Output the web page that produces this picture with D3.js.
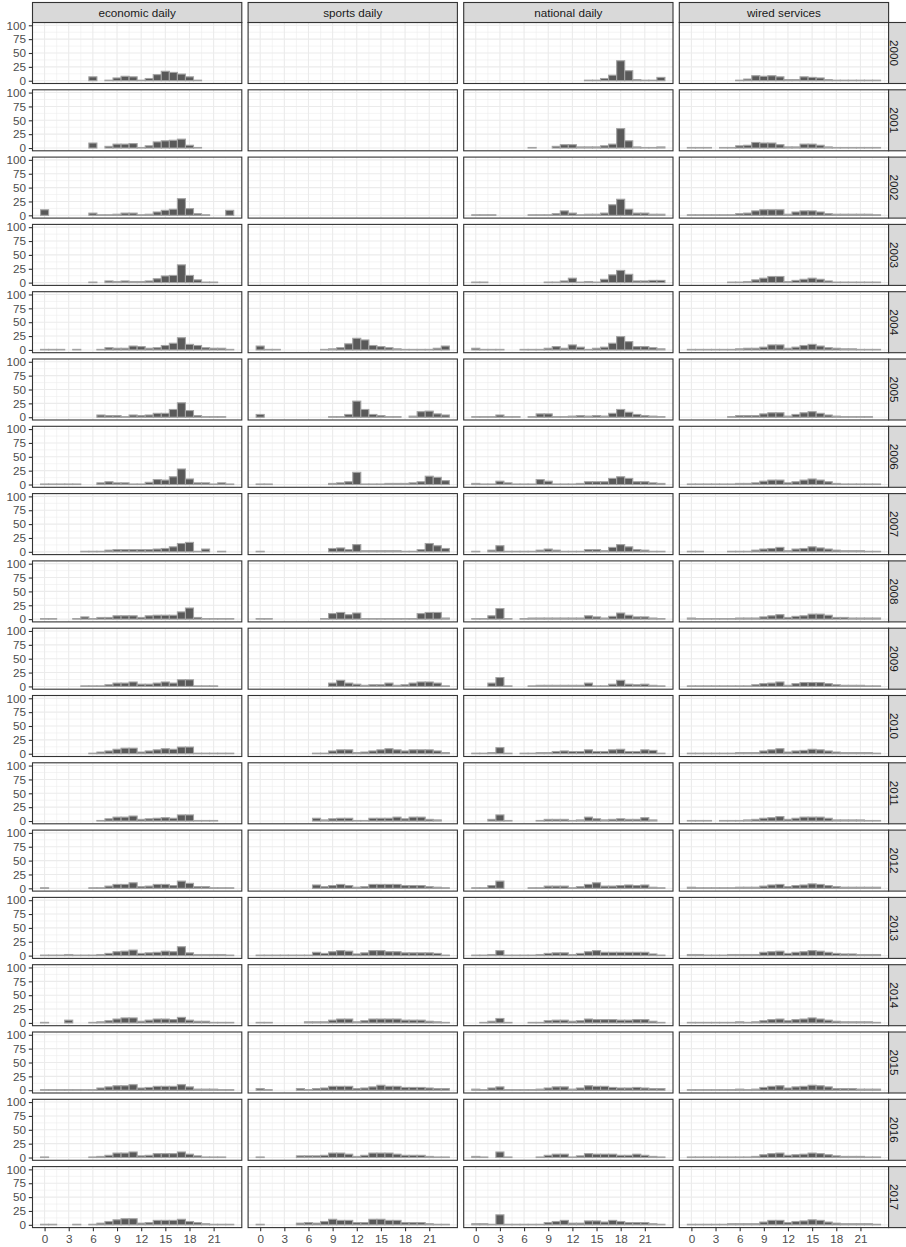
<!DOCTYPE html>
<html>
<head>
<meta charset="utf-8">
<script src="https://cdn.jsdelivr.net/npm/d3@7"></script>
<style>
  body { margin: 0; background: #fff; }
  svg { display: block; font-family: "Liberation Sans", Arial, sans-serif; }
</style>
</head>
<body>
<div id="chart"></div>
<script>
// facets
const sources = ["economic daily", "sports daily", "national daily", "wired services"];
const years = [2000, 2001, 2002, 2003, 2004, 2005, 2006, 2007, 2008, 2009,
               2010, 2011, 2012, 2013, 2014, 2015, 2016, 2017];
const hours = [0, 1, 2, 3, 4, 5, 6, 7, 8, 9, 10, 11, 12, 13, 14, 15, 16, 17, 18, 19, 20, 21, 22, 23];
const xTicks = [0, 3, 6, 9, 12, 15, 18, 21];
const yTicks = [0, 25, 50, 75, 100];

// counts per hour, one row per year (0 = no bar)
const economicDaily = [
  [0,0,0,0,0,0,7,0,1,5,8,7,1,4,11,17,15,12,7,1,0,0,0,0],
  [0,0,0,0,0,0,9,0,3,7,7,8,1,4,11,13,14,16,5,1,0,0,0,0],
  [10,0,0,0,0,0,4,1,1,2,4,4,1,2,6,9,11,30,12,3,1,0,0,9],
  [0,0,0,0,0,0,1,0,3,2,3,2,2,3,7,12,13,32,13,5,1,1,0,0],
  [1,1,1,0,1,0,0,1,4,3,3,7,6,3,4,8,12,22,10,8,4,3,3,1],
  [0,0,0,0,0,0,0,4,3,3,1,4,3,4,7,7,14,26,12,3,1,1,1,0],
  [1,1,1,1,1,0,0,3,5,3,3,1,1,4,9,8,14,28,10,3,3,1,3,1],
  [0,0,0,0,0,1,1,1,3,4,4,4,4,4,5,6,9,15,17,1,5,0,1,0],
  [1,1,0,0,1,4,1,3,3,6,6,6,3,6,7,7,7,13,20,3,1,1,1,1],
  [0,0,0,0,0,1,1,1,3,6,6,8,4,4,6,8,6,12,12,1,1,1,0,0],
  [0,0,0,0,0,0,1,3,5,8,10,10,3,5,7,9,8,12,12,1,1,1,1,1],
  [0,0,0,0,0,0,0,1,4,7,7,9,3,4,5,6,5,11,11,1,1,1,0,0],
  [1,0,0,0,0,0,1,1,4,7,7,10,3,4,7,7,5,13,9,3,3,1,1,1],
  [1,1,1,2,1,1,1,2,4,7,8,10,4,5,6,8,7,16,5,2,2,2,2,1],
  [1,0,0,5,0,0,1,2,4,7,9,9,3,5,7,7,6,10,5,3,3,1,1,1],
  [1,1,1,1,1,1,1,4,6,8,8,10,4,5,7,7,7,10,6,2,2,2,1,1],
  [1,0,0,0,0,0,1,2,4,8,8,10,3,4,7,7,7,10,6,3,1,1,1,0],
  [1,1,0,0,1,0,1,3,6,9,11,11,3,4,8,8,8,10,6,4,2,1,1,1]
];
const sportsDaily = [
  [0,0,0,0,0,0,0,0,0,0,0,0,0,0,0,0,0,0,0,0,0,0,0,0],
  [0,0,0,0,0,0,0,0,0,0,0,0,0,0,0,0,0,0,0,0,0,0,0,0],
  [0,0,0,0,0,0,0,0,0,0,0,0,0,0,0,0,0,0,0,0,0,0,0,0],
  [0,0,0,0,0,0,0,0,0,0,0,0,0,0,0,0,0,0,0,0,0,0,0,0],
  [7,1,1,0,0,0,0,0,1,2,4,11,21,18,8,6,4,2,1,1,1,1,3,7],
  [5,0,0,0,0,0,0,0,0,1,1,5,29,14,5,3,1,1,0,2,10,11,6,4],
  [1,1,0,0,0,0,0,0,0,2,3,5,22,1,1,1,2,2,2,3,5,15,13,7],
  [1,0,0,0,0,0,0,0,0,6,7,4,13,2,2,2,2,2,1,1,4,15,11,6],
  [1,1,0,0,0,0,0,0,1,10,12,8,11,1,1,1,1,1,1,1,10,12,12,2],
  [0,0,0,0,0,0,0,0,0,6,11,6,4,2,3,3,6,2,3,6,8,8,6,1],
  [0,0,0,0,0,0,0,1,1,5,7,7,2,3,5,7,9,7,5,7,7,7,5,2],
  [0,0,0,0,0,0,0,5,2,4,5,5,1,1,5,5,5,7,4,7,7,3,2,0],
  [0,0,0,0,0,0,0,6,3,5,7,5,2,3,7,7,7,7,5,5,5,3,2,1],
  [1,1,1,1,1,1,1,6,4,7,9,8,3,5,9,9,7,7,5,5,5,5,4,1],
  [1,1,0,0,0,0,2,2,2,5,7,7,2,4,7,7,7,7,5,5,5,3,2,1],
  [3,1,0,0,0,3,1,3,4,7,7,7,3,4,6,9,7,7,5,5,5,4,3,3],
  [1,0,0,0,0,3,3,3,4,8,8,6,2,4,8,8,8,6,4,4,4,2,1,1],
  [1,0,0,0,0,3,4,3,6,10,8,8,4,4,10,10,8,8,4,4,4,2,1,1]
];
const nationalDaily = [
  [0,0,0,0,0,0,0,0,0,0,0,0,0,0,1,1,4,10,36,18,2,1,1,6],
  [0,0,0,0,0,0,0,1,0,0,3,6,6,2,2,2,4,7,35,13,2,1,1,2],
  [1,1,1,0,0,0,0,1,1,1,3,8,4,1,2,2,4,19,29,11,4,4,2,2],
  [1,1,0,0,0,0,0,0,0,1,1,3,8,1,2,1,6,14,22,15,3,3,4,4],
  [3,1,1,1,0,0,1,1,1,3,6,3,9,5,1,3,5,12,24,15,6,6,4,2],
  [1,1,1,4,1,1,0,1,6,6,1,1,2,3,2,3,2,7,14,9,5,3,2,1],
  [2,1,1,6,3,1,1,1,9,6,1,1,1,2,5,5,5,11,14,11,5,5,3,2],
  [1,0,3,11,1,1,1,1,3,5,3,1,1,1,4,4,2,8,13,9,4,3,1,1],
  [1,1,6,19,1,0,1,2,2,2,2,2,2,2,6,4,2,5,11,7,4,4,2,1],
  [0,0,6,16,1,0,0,1,2,2,2,2,2,2,6,1,1,4,11,4,3,4,2,1],
  [1,1,2,11,1,0,1,1,2,2,4,5,4,4,7,4,4,7,8,4,4,7,6,1],
  [0,0,3,11,1,0,0,0,1,3,3,3,1,2,7,4,2,3,4,3,3,6,2,0],
  [1,1,5,13,0,0,0,1,1,4,4,4,1,3,7,10,4,4,5,6,5,6,2,1],
  [1,1,2,9,1,1,1,1,2,4,5,5,2,4,7,9,6,6,6,6,6,6,3,1],
  [0,1,3,8,1,0,0,1,1,4,5,5,3,4,7,6,6,6,5,5,6,6,3,1],
  [2,1,4,6,1,1,1,1,2,4,6,6,2,4,8,7,7,5,4,4,5,4,3,3],
  [2,1,0,10,1,0,0,0,1,4,6,6,1,3,7,6,6,6,4,4,6,4,2,1],
  [2,2,1,18,1,1,1,1,1,4,6,8,3,3,7,7,5,8,6,4,4,4,2,1]
];
const wiredServices = [
  [0,0,0,0,0,0,1,3,9,8,9,7,2,2,7,6,5,2,1,1,1,1,1,1],
  [1,1,1,0,1,1,4,5,10,9,9,6,2,2,7,7,5,2,1,1,1,1,1,1],
  [1,1,1,1,1,1,3,4,8,10,10,10,2,6,8,8,6,3,2,2,2,2,2,1],
  [0,0,0,0,0,1,1,2,5,8,11,11,2,4,6,8,6,3,1,1,1,1,1,1],
  [1,1,1,1,1,1,2,3,3,5,9,9,3,5,8,10,7,4,3,2,2,1,1,1],
  [0,0,0,0,0,1,3,3,3,6,8,8,2,5,8,10,7,4,2,1,1,1,1,0],
  [1,1,1,1,1,1,2,2,3,6,8,8,3,5,8,10,8,5,2,1,1,1,1,1],
  [1,1,0,0,0,1,1,1,3,5,6,8,2,5,6,9,7,5,3,2,2,2,1,1],
  [2,1,1,1,1,1,2,2,2,4,6,8,3,5,6,9,9,7,3,3,2,2,2,2],
  [1,1,1,1,1,1,1,1,3,5,6,8,2,5,7,7,7,5,3,2,2,2,1,1],
  [1,1,1,1,1,1,2,2,2,5,7,9,3,5,6,8,7,5,3,2,2,2,2,1],
  [1,1,1,0,1,1,1,2,3,5,6,8,3,5,7,7,7,5,2,2,2,2,1,1],
  [2,1,1,1,1,1,2,2,2,4,6,7,3,5,6,8,7,5,3,2,2,2,2,2],
  [2,2,1,1,1,2,2,2,2,6,7,8,4,6,7,9,8,6,4,3,3,2,2,2],
  [1,1,1,1,1,1,2,1,2,4,6,7,4,6,7,9,7,5,3,2,2,2,2,1],
  [1,1,1,1,1,1,2,1,2,5,7,8,4,6,7,9,8,6,3,3,3,2,2,2],
  [1,1,1,1,1,1,1,1,2,5,7,8,4,5,6,8,7,5,3,2,2,2,1,1],
  [1,1,1,1,1,2,2,2,2,5,8,8,4,6,7,9,8,5,3,2,2,2,2,1]
];
const counts = [economicDaily, sportsDaily, nationalDaily, wiredServices];

const width = 906, height = 1247;
const panelLeft = 32.5, panelTop = 22.5;
const panelW = 209.3, panelH = 61;
const stepX = 215.6, stepY = 67.3;
const stripH = 20;

const svg = d3.select("#chart").append("svg")
    .attr("width", width)
    .attr("height", height);

svg.append("rect").attr("width", width).attr("height", height).attr("fill", "#fff");

const x = d3.scaleLinear().domain([-1.5, 24.5]).range([0, panelW]);
const y = d3.scaleLinear().domain([-5, 105]).range([panelH, 0]);

// minor breaks halfway between the majors (ggplot style)
const xMinor = d3.range(-1.5, 24.01, 1.5).filter(v => xTicks.indexOf(v) < 0);
const yMinor = [12.5, 37.5, 62.5, 87.5];

sources.forEach((src, i) => {
    years.forEach((yr, j) => {
        const g = svg.append("g")
            .attr("transform", `translate(${panelLeft + i * stepX},${panelTop + j * stepY})`);

        g.append("rect")
            .attr("width", panelW).attr("height", panelH)
            .attr("fill", "#fff");

        // grid
        g.selectAll(".vmin").data(xMinor).enter().append("line")
            .attr("x1", d => x(d)).attr("x2", d => x(d))
            .attr("y1", 0).attr("y2", panelH)
            .attr("stroke", "#ebebeb").attr("stroke-width", 0.55);
        g.selectAll(".hmin").data(yMinor).enter().append("line")
            .attr("x1", 0).attr("x2", panelW)
            .attr("y1", d => y(d)).attr("y2", d => y(d))
            .attr("stroke", "#ebebeb").attr("stroke-width", 0.55);
        g.selectAll(".vmaj").data(xTicks).enter().append("line")
            .attr("x1", d => x(d)).attr("x2", d => x(d))
            .attr("y1", 0).attr("y2", panelH)
            .attr("stroke", "#ebebeb").attr("stroke-width", 1.1);
        g.selectAll(".hmaj").data(yTicks).enter().append("line")
            .attr("x1", 0).attr("x2", panelW)
            .attr("y1", d => y(d)).attr("y2", d => y(d))
            .attr("stroke", "#ebebeb").attr("stroke-width", 1.1);

        // bars
        const vals = counts[i][j];
        g.selectAll(".bar")
            .data(hours.filter(h => vals[h] > 0))
            .enter().append("rect")
            .attr("x", h => x(h - 0.5))
            .attr("width", x(1) - x(0))
            .attr("y", h => y(vals[h]))
            .attr("height", h => y(0) - y(vals[h]))
            .attr("fill", "#595959")
            .attr("stroke", "#a3a3a3")
            .attr("stroke-width", 1.1);

        // border
        g.append("rect")
            .attr("width", panelW).attr("height", panelH)
            .attr("fill", "none")
            .attr("stroke", "#333333").attr("stroke-width", 1.1);

        if (j === 0) {
            g.append("rect")
                .attr("y", -stripH).attr("width", panelW).attr("height", stripH)
                .attr("fill", "#d9d9d9")
                .attr("stroke", "#333333").attr("stroke-width", 1.1);
            g.append("text")
                .attr("x", panelW / 2).attr("y", -stripH / 2)
                .attr("text-anchor", "middle")
                .attr("dominant-baseline", "central")
                .style("font-size", "11.7px")
                .style("fill", "#1a1a1a")
                .text(src);
        }

        if (i === sources.length - 1) {
            g.append("rect")
                .attr("x", panelW).attr("width", 20).attr("height", panelH)
                .attr("fill", "#d9d9d9")
                .attr("stroke", "#333333").attr("stroke-width", 1.1);
            g.append("text")
                .attr("transform", `translate(${panelW + 6.3},${panelH / 2}) rotate(90)`)
                .attr("text-anchor", "middle")
                .attr("dominant-baseline", "central")
                .style("font-size", "11.7px")
                .style("fill", "#1a1a1a")
                .text(yr);
        }

        if (i === 0) {
            const ay = g.append("g")
                .call(d3.axisLeft(y).tickValues(yTicks).tickSize(3.7).tickPadding(2.9));
            ay.select(".domain").remove();
            ay.selectAll("line").attr("stroke", "#333333").attr("stroke-width", 1.1);
            ay.selectAll("text")
                .style("font-size", "11.7px")
                .style("font-family", "'Liberation Sans', Arial, sans-serif")
                .style("fill", "#4d4d4d");
        }

        if (j === years.length - 1) {
            const ax = g.append("g")
                .attr("transform", `translate(0,${panelH})`)
                .call(d3.axisBottom(x).tickValues(xTicks).tickSize(3.7).tickPadding(2.9));
            ax.select(".domain").remove();
            ax.selectAll("line").attr("stroke", "#333333").attr("stroke-width", 1.1);
            ax.selectAll("text")
                .style("font-size", "11.7px")
                .style("font-family", "'Liberation Sans', Arial, sans-serif")
                .style("fill", "#4d4d4d");
        }
    });
});
</script>
</body>
</html>
